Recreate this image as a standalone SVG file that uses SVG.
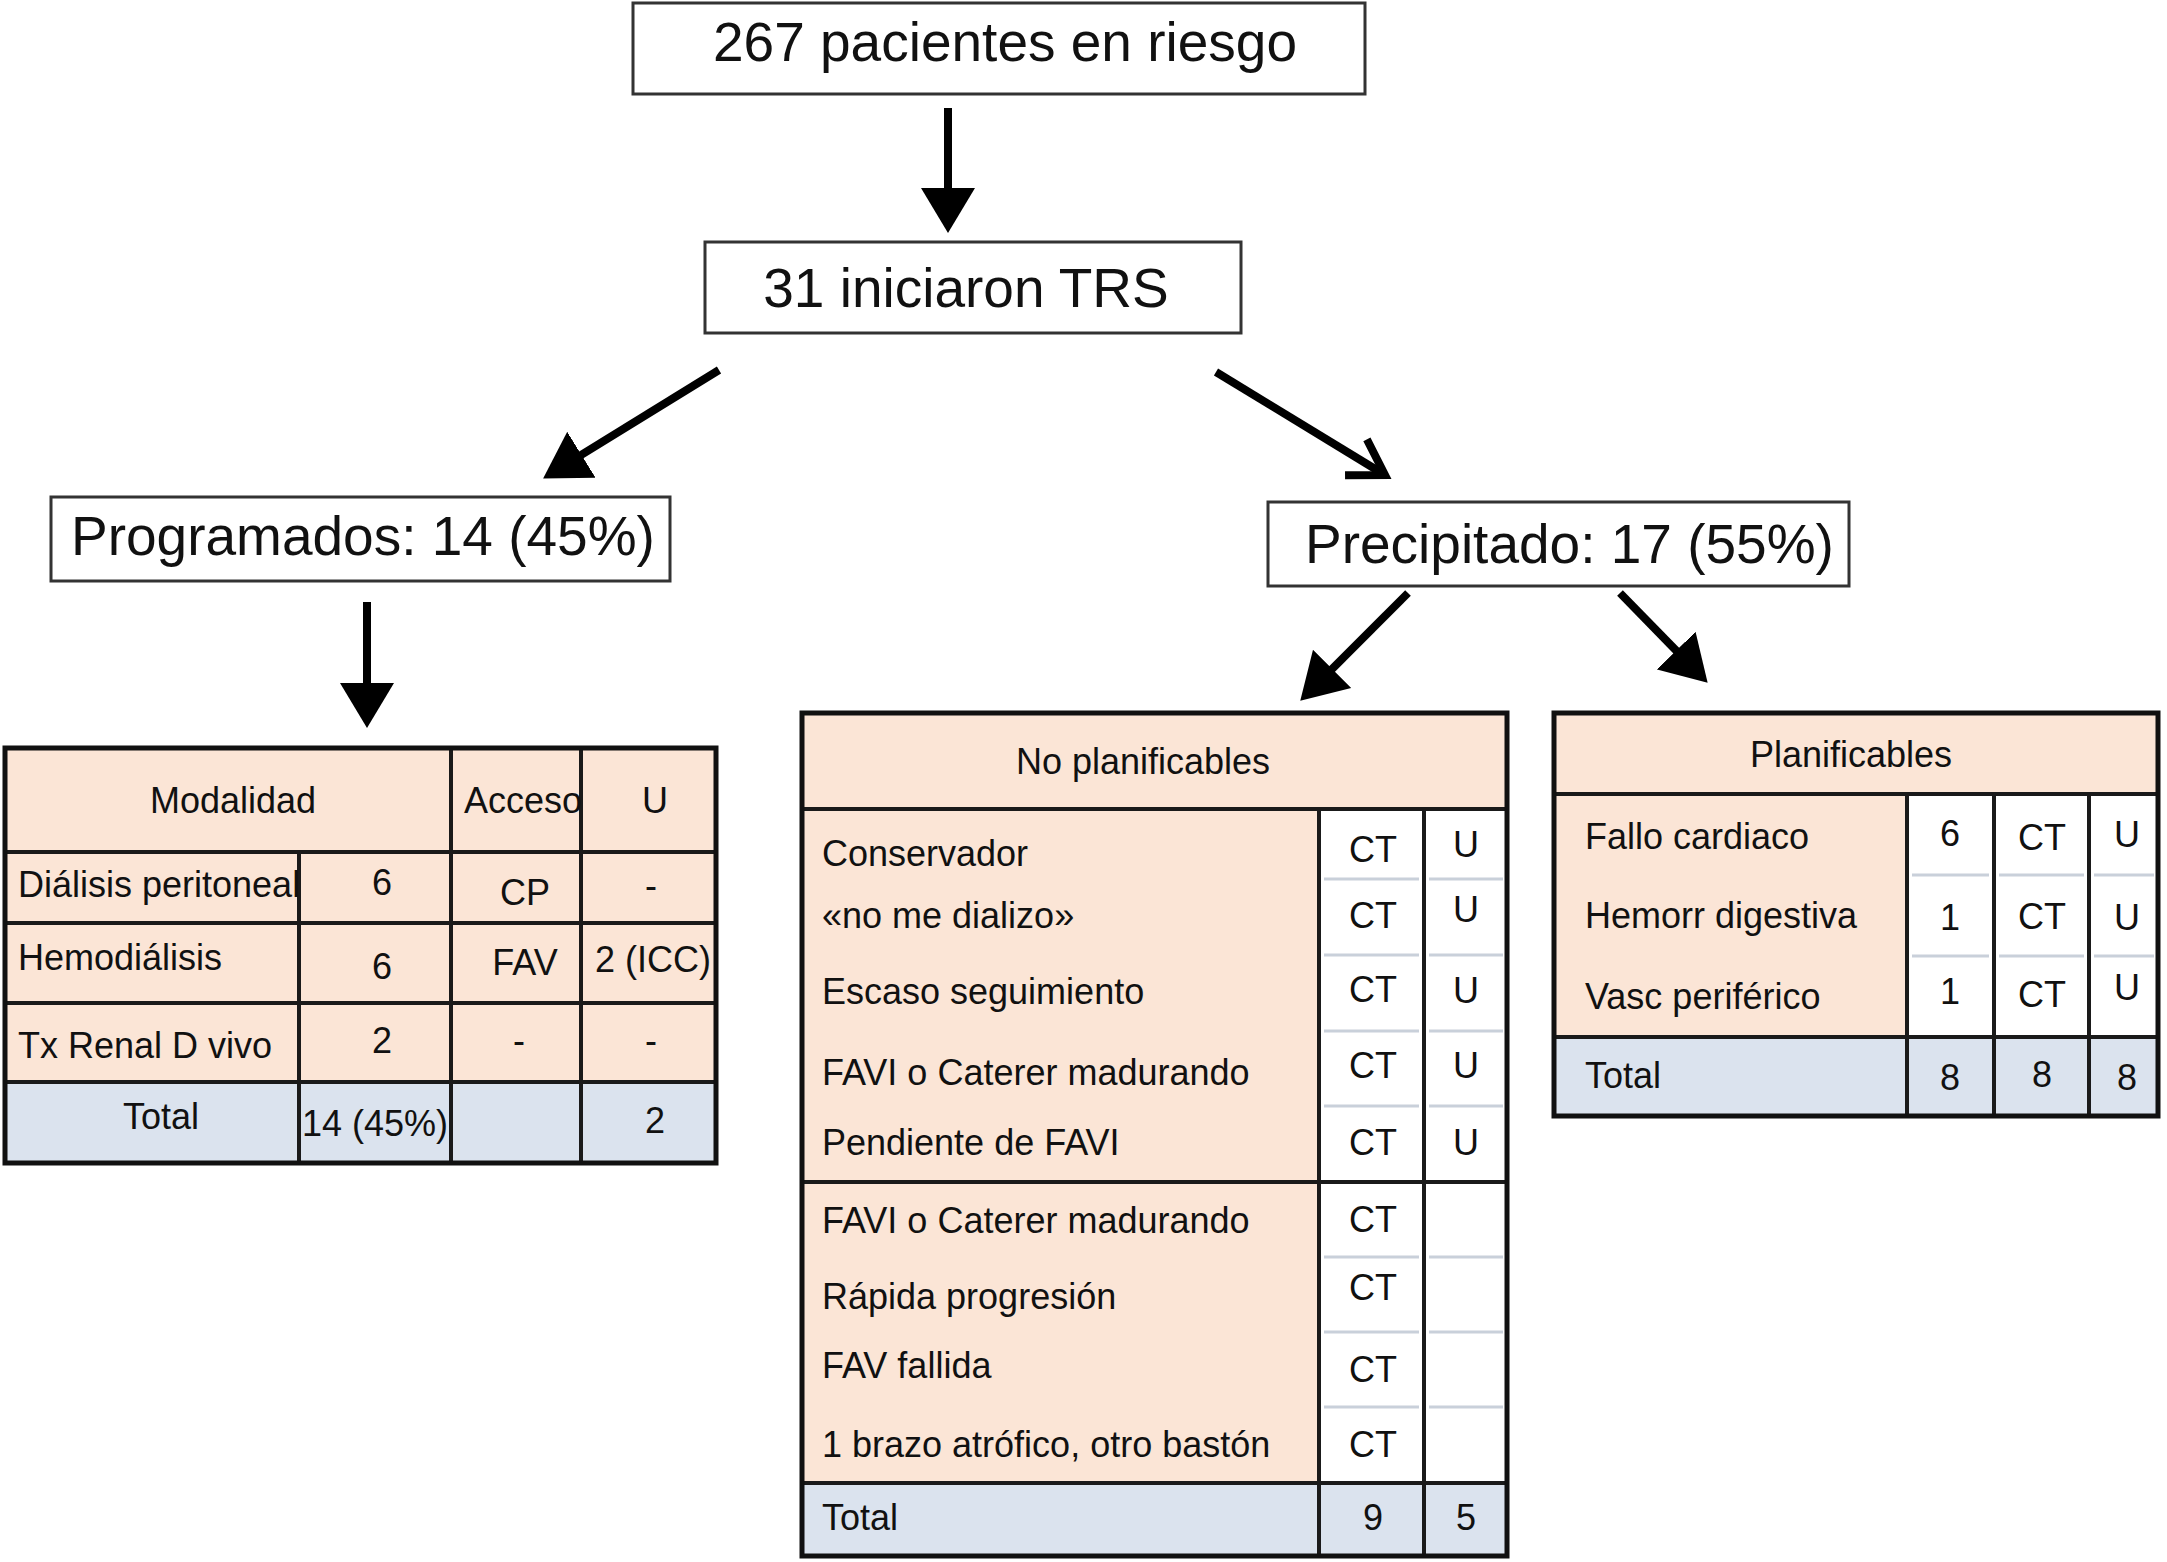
<svg xmlns="http://www.w3.org/2000/svg" width="2167" height="1562" viewBox="0 0 2167 1562">
<style>
text{font-family:"Liberation Sans",Arial,Helvetica,sans-serif;fill:#111}
.big{font-size:55px}
.t{font-size:36px}
.m{text-anchor:middle}
.box{fill:#fff;stroke:#333;stroke-width:3}
.peach{fill:#fbe5d6}
.blue{fill:#dbe3ee}
.white{fill:#fff}
.outer{fill:none;stroke:#111;stroke-width:5}
.ln{stroke:#1a1a1a;stroke-width:4;fill:none}
.sep{stroke:#c9d0da;stroke-width:3;fill:none}
.arr{stroke:#000;stroke-width:8;fill:none}
</style>
<defs>
<marker id="tri" markerUnits="userSpaceOnUse" markerWidth="46" markerHeight="56" refX="14" refY="28" orient="auto"><path d="M0,1 L45,28 L0,55 Z" fill="#000"/></marker>
<marker id="chev" markerUnits="userSpaceOnUse" markerWidth="50" markerHeight="50" refX="40" refY="25" orient="auto" overflow="visible"><path d="M6,4 L40,25 L6,46" fill="none" stroke="#000" stroke-width="8"/></marker>
</defs>
<rect width="2167" height="1562" fill="#fff"/>

<g id="connectors">
<line class="arr" x1="948" y1="108" x2="948" y2="202" marker-end="url(#tri)"/>
<line class="arr" x1="719" y1="370" x2="569.5" y2="462.2" marker-end="url(#tri)"/>
<line class="arr" x1="1216" y1="372" x2="1385" y2="475" marker-end="url(#chev)"/>
<line class="arr" x1="367" y1="602" x2="367" y2="697" marker-end="url(#tri)"/>
<line class="arr" x1="1408" y1="593" x2="1322.2" y2="678.8" marker-end="url(#tri)"/>
<line class="arr" x1="1620" y1="593" x2="1686" y2="660.6" marker-end="url(#tri)"/>
</g>

<g id="node-riesgo">
<rect class="box" x="633" y="3" width="732" height="91"/>
<text class="big m" x="1005" y="61">267 pacientes en riesgo</text>
</g>
<g id="node-trs">
<rect class="box" x="705" y="242" width="536" height="91"/>
<text class="big m" x="966" y="307">31 iniciaron TRS</text>
</g>
<g id="node-programados">
<rect class="box" x="51" y="497" width="619" height="84"/>
<text class="big" x="71" y="555">Programados: 14 (45%)</text>
</g>
<g id="node-precipitado">
<rect class="box" x="1268" y="502" width="581" height="84"/>
<text class="big" x="1305" y="563">Precipitado: 17 (55%)</text>
</g>

<g id="table-modalidad">
<rect class="peach" x="5" y="748" width="711" height="334"/>
<rect class="blue" x="5" y="1082" width="711" height="81"/>
<line class="ln" x1="5" y1="852" x2="716" y2="852"/>
<line class="ln" x1="5" y1="923" x2="716" y2="923"/>
<line class="ln" x1="5" y1="1003" x2="716" y2="1003"/>
<line class="ln" x1="5" y1="1082" x2="716" y2="1082"/>
<line class="ln" x1="299" y1="852" x2="299" y2="1163"/>
<line class="ln" x1="451" y1="748" x2="451" y2="1163"/>
<line class="ln" x1="581" y1="748" x2="581" y2="1163"/>
<rect class="outer" x="5" y="748" width="711" height="415"/>
<text class="t m" x="233" y="813">Modalidad</text>
<text class="t" x="464" y="813">Acceso</text>
<text class="t m" x="655" y="813">U</text>
<text class="t" x="18" y="897">Diálisis peritoneal</text>
<text class="t m" x="382" y="895">6</text>
<text class="t m" x="525" y="905">CP</text>
<text class="t m" x="651" y="898">-</text>
<text class="t" x="18" y="970">Hemodiálisis</text>
<text class="t m" x="382" y="979">6</text>
<text class="t m" x="525" y="975">FAV</text>
<text class="t" x="595" y="972">2 (ICC)</text>
<text class="t" x="18" y="1058">Tx Renal D vivo</text>
<text class="t m" x="382" y="1053">2</text>
<text class="t m" x="519" y="1053">-</text>
<text class="t m" x="651" y="1053">-</text>
<text class="t m" x="161" y="1129">Total</text>
<text class="t" x="302" y="1136">14 (45%)</text>
<text class="t m" x="655" y="1133">2</text>
</g>

<g id="table-no-planificables">
<rect class="peach" x="802" y="713" width="705" height="96"/>
<rect class="peach" x="802" y="809" width="517" height="674"/>
<rect class="white" x="1319" y="809" width="188" height="674"/>
<rect class="blue" x="802" y="1483" width="705" height="73"/>
<line class="sep" x1="1324" y1="879" x2="1419" y2="879"/><line class="sep" x1="1429" y1="879" x2="1503" y2="879"/>
<line class="sep" x1="1324" y1="955" x2="1419" y2="955"/><line class="sep" x1="1429" y1="955" x2="1503" y2="955"/>
<line class="sep" x1="1324" y1="1031" x2="1419" y2="1031"/><line class="sep" x1="1429" y1="1031" x2="1503" y2="1031"/>
<line class="sep" x1="1324" y1="1106" x2="1419" y2="1106"/><line class="sep" x1="1429" y1="1106" x2="1503" y2="1106"/>
<line class="sep" x1="1324" y1="1257" x2="1419" y2="1257"/><line class="sep" x1="1429" y1="1257" x2="1503" y2="1257"/>
<line class="sep" x1="1324" y1="1332" x2="1419" y2="1332"/><line class="sep" x1="1429" y1="1332" x2="1503" y2="1332"/>
<line class="sep" x1="1324" y1="1407" x2="1419" y2="1407"/><line class="sep" x1="1429" y1="1407" x2="1503" y2="1407"/>
<line class="ln" x1="802" y1="809" x2="1507" y2="809"/>
<line class="ln" x1="802" y1="1182" x2="1507" y2="1182"/>
<line class="ln" x1="802" y1="1483" x2="1507" y2="1483"/>
<line class="ln" x1="1319" y1="809" x2="1319" y2="1556"/>
<line class="ln" x1="1424" y1="809" x2="1424" y2="1556"/>
<rect class="outer" x="802" y="713" width="705" height="843"/>
<text class="t m" x="1143" y="774">No planificables</text>
<text class="t" x="822" y="866">Conservador</text>
<text class="t" x="822" y="928">«no me dializo»</text>
<text class="t" x="822" y="1004">Escaso seguimiento</text>
<text class="t" x="822" y="1085">FAVI o Caterer madurando</text>
<text class="t" x="822" y="1155">Pendiente de FAVI</text>
<text class="t" x="822" y="1233">FAVI o Caterer madurando</text>
<text class="t" x="822" y="1309">Rápida progresión</text>
<text class="t" x="822" y="1378">FAV fallida</text>
<text class="t" x="822" y="1457">1 brazo atrófico, otro bastón</text>
<text class="t" x="822" y="1530">Total</text>
<text class="t m" x="1373" y="862">CT</text>
<text class="t m" x="1373" y="928">CT</text>
<text class="t m" x="1373" y="1002">CT</text>
<text class="t m" x="1373" y="1078">CT</text>
<text class="t m" x="1373" y="1155">CT</text>
<text class="t m" x="1373" y="1232">CT</text>
<text class="t m" x="1373" y="1300">CT</text>
<text class="t m" x="1373" y="1382">CT</text>
<text class="t m" x="1373" y="1457">CT</text>
<text class="t m" x="1373" y="1530">9</text>
<text class="t m" x="1466" y="857">U</text>
<text class="t m" x="1466" y="922">U</text>
<text class="t m" x="1466" y="1003">U</text>
<text class="t m" x="1466" y="1078">U</text>
<text class="t m" x="1466" y="1155">U</text>
<text class="t m" x="1466" y="1530">5</text>
</g>

<g id="table-planificables">
<rect class="peach" x="1554" y="713" width="604" height="81"/>
<rect class="peach" x="1554" y="794" width="353" height="243"/>
<rect class="white" x="1907" y="794" width="251" height="243"/>
<rect class="blue" x="1554" y="1037" width="604" height="79"/>
<line class="sep" x1="1912" y1="875" x2="1989" y2="875"/><line class="sep" x1="1999" y1="875" x2="2084" y2="875"/><line class="sep" x1="2094" y1="875" x2="2154" y2="875"/>
<line class="sep" x1="1912" y1="956" x2="1989" y2="956"/><line class="sep" x1="1999" y1="956" x2="2084" y2="956"/><line class="sep" x1="2094" y1="956" x2="2154" y2="956"/>
<line class="ln" x1="1554" y1="794" x2="2158" y2="794"/>
<line class="ln" x1="1554" y1="1037" x2="2158" y2="1037"/>
<line class="ln" x1="1907" y1="794" x2="1907" y2="1116"/>
<line class="ln" x1="1994" y1="794" x2="1994" y2="1116"/>
<line class="ln" x1="2089" y1="794" x2="2089" y2="1116"/>
<rect class="outer" x="1554" y="713" width="604" height="403"/>
<text class="t m" x="1851" y="767">Planificables</text>
<text class="t" x="1585" y="849">Fallo cardiaco</text>
<text class="t" x="1585" y="928">Hemorr digestiva</text>
<text class="t" x="1585" y="1009">Vasc periférico</text>
<text class="t" x="1585" y="1088">Total</text>
<text class="t m" x="1950" y="846">6</text>
<text class="t m" x="1950" y="930">1</text>
<text class="t m" x="1950" y="1004">1</text>
<text class="t m" x="1950" y="1090">8</text>
<text class="t m" x="2042" y="850">CT</text>
<text class="t m" x="2042" y="929">CT</text>
<text class="t m" x="2042" y="1007">CT</text>
<text class="t m" x="2042" y="1087">8</text>
<text class="t m" x="2127" y="847">U</text>
<text class="t m" x="2127" y="930">U</text>
<text class="t m" x="2127" y="1000">U</text>
<text class="t m" x="2127" y="1090">8</text>
</g>
</svg>
